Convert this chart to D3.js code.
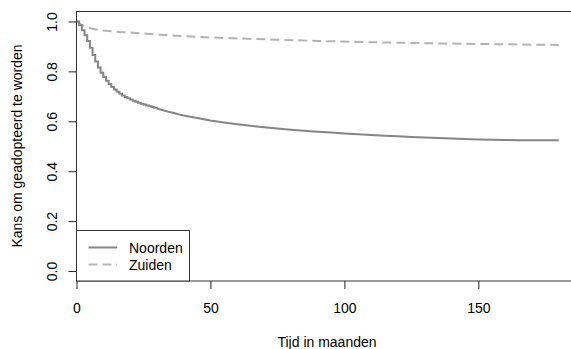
<!DOCTYPE html>
<html lang="nl">
<head>
  <meta charset="UTF-8">
  <title>Kans om geadopteerd te worden</title>
  <script src="https://d3js.org/d3.v7.min.js"></script>
  <style>
    body {
      margin: 0;
      background-color: #ffffff;
      font-family: "Liberation Sans", Arial, sans-serif;
    }

    .axis path.domain {
      stroke: none;
    }

    .axis line {
      stroke: #222;
    }

    .axis text {
      font-size: 14px;
      fill: #000;
      font-family: "Liberation Sans", Arial, sans-serif;
    }

    .axis-label {
      font-size: 14px;
      fill: #000;
    }

    .legend text {
      font-size: 14px;
      fill: #000;
    }
  </style>
</head>
<body>
  <svg width="571" height="349"></svg>
  <script>
    // Data (months, survival probability)
    const noordenTime = [0, 1, 2, 3, 4, 5, 6, 7, 8, 9, 10, 11, 12, 13, 14, 15, 16, 17, 18, 19, 20,
      21, 22, 23, 24, 25, 26, 27, 28, 29, 30, 32, 34, 36, 38, 40, 43, 46, 50, 55, 60, 65, 70, 75,
      80, 85, 90, 95, 100, 105, 110, 115, 120, 125, 130, 135, 140, 145, 150, 155, 160, 165, 180];
    const noordenValue = [1.000, 0.985, 0.965, 0.945, 0.922, 0.895, 0.866, 0.840, 0.816, 0.795, 0.778,
      0.762, 0.749, 0.737, 0.727, 0.718, 0.710, 0.703, 0.697, 0.692, 0.687, 0.682, 0.678, 0.674,
      0.670, 0.667, 0.663, 0.660, 0.657, 0.654, 0.651, 0.645, 0.639, 0.634, 0.628, 0.623, 0.617,
      0.611, 0.603, 0.595, 0.588, 0.582, 0.576, 0.571, 0.566, 0.562, 0.558, 0.555, 0.551, 0.548,
      0.545, 0.542, 0.540, 0.537, 0.535, 0.533, 0.531, 0.529, 0.527, 0.526, 0.525, 0.524, 0.524];

    const zuidenTime = [0, 1, 2, 3, 4, 6, 8, 10, 13, 16, 20, 25, 30, 35, 40, 50, 60, 75, 90, 110,
      130, 150, 170, 180];
    const zuidenValue = [1.000, 0.993, 0.986, 0.980, 0.976, 0.971, 0.967, 0.964, 0.961, 0.958, 0.956,
      0.952, 0.948, 0.944, 0.941, 0.936, 0.932, 0.927, 0.922, 0.917, 0.913, 0.910, 0.907, 0.906];

    const seriesNames = ["Noorden", "Zuiden"];
    const xTicks = [0, 50, 100, 150];
    const yTicks = [0.0, 0.2, 0.4, 0.6, 0.8, 1.0];

    // steps are only visible in the first months
    const stepUntil = 30;

    const svg = d3.select("svg");

    // Plot region (right side runs off the picture)
    const x = d3.scaleLinear().domain([0, 187.2]).range([76.5, 578]);
    const y = d3.scaleLinear().domain([-0.04, 1.04]).range([281, 11.5]);

    const noorden = noordenTime.map((t, i) => ({ t: t, v: noordenValue[i] }));
    const zuiden = zuidenTime.map((t, i) => ({ t: t, v: zuidenValue[i] }));

    const stepLine = d3.line()
      .x(d => x(d.t))
      .y(d => y(d.v))
      .curve(d3.curveStepAfter);

    const smoothLine = d3.line()
      .x(d => x(d.t))
      .y(d => y(d.v))
      .curve(d3.curveLinear);

    // Curves
    svg.append("path")
      .datum(zuiden)
      .attr("fill", "none")
      .attr("stroke", "#b3b3b3")
      .attr("stroke-width", 2)
      .attr("stroke-dasharray", "9,5")
      .attr("d", smoothLine);

    svg.append("path")
      .datum(noorden.filter(d => d.t <= stepUntil))
      .attr("fill", "none")
      .attr("stroke", "#858585")
      .attr("stroke-width", 2)
      .attr("d", stepLine);

    svg.append("path")
      .datum(noorden.filter(d => d.t >= stepUntil))
      .attr("fill", "none")
      .attr("stroke", "#858585")
      .attr("stroke-width", 2)
      .attr("d", smoothLine);

    // Box
    svg.append("rect")
      .attr("x", 76.5)
      .attr("y", 11.5)
      .attr("width", 520)
      .attr("height", 269.5)
      .attr("fill", "none")
      .attr("stroke", "#333")
      .attr("stroke-width", 1);

    // X axis
    const xAxis = svg.append("g")
      .attr("class", "axis")
      .attr("transform", "translate(0,281)")
      .call(d3.axisBottom(x).tickValues(xTicks).tickSize(8).tickFormat(d3.format("d")));
    xAxis.selectAll("text")
      .attr("y", 32)
      .attr("dy", 0);

    // Y axis with rotated labels
    const yAxis = svg.append("g")
      .attr("class", "axis")
      .attr("transform", "translate(76.5,0)")
      .call(d3.axisLeft(y).tickValues(yTicks).tickSize(8).tickFormat(d3.format(".1f")));
    yAxis.selectAll("text")
      .attr("transform", "rotate(-90)")
      .attr("x", 0)
      .attr("y", -19.5)
      .attr("dy", 0)
      .style("text-anchor", "middle");

    // Axis labels
    svg.append("text")
      .attr("class", "axis-label")
      .attr("x", 327)
      .attr("y", 347)
      .attr("text-anchor", "middle")
      .text("Tijd in maanden");

    svg.append("text")
      .attr("class", "axis-label")
      .attr("transform", "translate(21.5,146) rotate(-90)")
      .attr("text-anchor", "middle")
      .text("Kans om geadopteerd te worden");

    // Legend (bottom left inside the plot)
    const legend = svg.append("g").attr("class", "legend");
    legend.append("rect")
      .attr("x", 76.5)
      .attr("y", 230.5)
      .attr("width", 113)
      .attr("height", 50.5)
      .attr("fill", "#fff")
      .attr("stroke", "#333");

    const legendStyle = [
      { color: "#858585", dash: null, ly: 247.5 },
      { color: "#b3b3b3", dash: "9,5", ly: 264.5 }
    ];

    seriesNames.forEach((name, i) => {
      const s = legendStyle[i];
      legend.append("line")
        .attr("x1", 88.5)
        .attr("x2", 117)
        .attr("y1", s.ly)
        .attr("y2", s.ly)
        .attr("stroke", s.color)
        .attr("stroke-width", 2)
        .attr("stroke-dasharray", s.dash);
      legend.append("text")
        .attr("x", 129)
        .attr("y", s.ly + 5)
        .text(name);
    });
  </script>
</body>
</html>
